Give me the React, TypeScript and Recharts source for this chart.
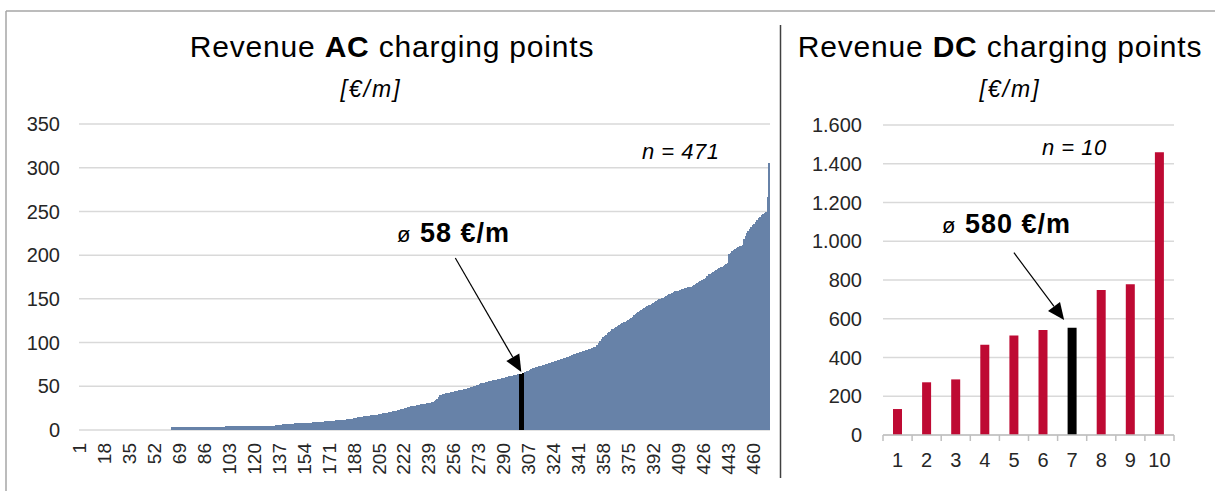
import { BarChart, Bar, XAxis, YAxis, CartesianGrid, Cell, ReferenceLine } from 'recharts';

const font = '"Liberation Sans", Arial, sans-serif';
const textColor = '#262626';
const acColor = '#6782a8';
const dcColor = '#be0a33';

// AC charging points, sorted ascending, one value per point [€/month]
const acRevenue = [
  0, 0, 0, 0, 0, 0, 0, 0, 0, 0,
  0, 0, 0, 0, 0, 0, 0, 0, 0, 0,
  0, 0, 0, 0, 0, 0, 0, 0, 0, 0,
  0, 0, 0, 0, 0, 0, 0, 0, 0, 0,
  0, 0, 0, 0, 0, 0, 0, 0, 0, 0,
  0, 0, 0, 0, 0, 0, 0, 0, 0, 0,
  0, 0, 0, 3.8, 3.8, 3.8, 3.8, 3.8, 3.8, 3.8,
  3.8, 3.8, 3.8, 3.8, 3.8, 3.8, 3.8, 3.8, 3.8, 3.8,
  3.8, 3.8, 3.8, 3.8, 3.8, 3.8, 3.8, 3.8, 3.8, 3.8,
  3.8, 3.8, 3.8, 3.8, 3.8, 3.8, 3.8, 3.8, 3.8, 3.8,
  4.2, 4.2, 4.2, 4.2, 4.2, 4.2, 4.2, 4.2, 4.2, 4.2,
  4.2, 4.2, 4.2, 4.2, 4.2, 4.2, 4.2, 4.2, 4.2, 4.2,
  4.2, 4.2, 4.2, 4.2, 4.2, 4.2, 4.2, 4.2, 4.2, 4.2,
  4.2, 4.2, 4.2, 4.5, 6, 6, 6, 6, 6.2, 6.3,
  6.5, 6.6, 6.8, 7, 7, 7.2, 7.4, 7.5, 7.6, 7.7,
  7.8, 7.9, 8, 8, 8.1, 8.2, 8.3, 8.4, 8.5, 8.6,
  8.7, 8.8, 9, 9.1, 9.3, 9.5, 9.6, 9.8, 10, 10.1,
  10.2, 10.4, 10.5, 10.6, 10.8, 11, 11.1, 11.3, 11.5, 11.6,
  11.8, 12, 12.2, 12.3, 12.5, 12.8, 13, 13.3, 13.6, 14,
  14.3, 14.6, 15, 15.3, 15.5, 15.8, 16, 16.2, 16.4, 16.6,
  16.8, 17, 17.3, 17.6, 18, 18.3, 18.7, 19, 19.3, 19.6,
  20, 20.3, 20.6, 21, 21.4, 21.8, 22.2, 22.6, 23, 23.5,
  24, 24.5, 25, 25.5, 26, 26.5, 27, 27.3, 27.6, 27.9,
  28.2, 28.5, 28.8, 29.2, 29.6, 30, 30.3, 30.6, 31, 31.4,
  31.8, 32.2, 33, 34.5, 36, 38, 39.5, 40.5, 41, 41.4,
  41.8, 42.2, 42.6, 43, 43.4, 43.8, 44.2, 44.6, 45, 45.3,
  45.6, 46, 46.4, 46.8, 47.2, 47.8, 48.4, 49, 49.6, 50.2,
  50.8, 51.4, 52, 52.6, 53.2, 53.8, 54.3, 54.8, 55.2, 55.6,
  56, 56.4, 56.8, 57.2, 57.6, 58, 58.4, 58.8, 59.2, 59.6,
  60, 60.4, 60.8, 61.2, 61.6, 62, 62.4, 62.8, 63.2, 63.6,
  64, 64.4, 64.8, 65.2, 66, 67, 68, 69, 70, 70.6,
  71.2, 71.7, 72.2, 72.7, 73.2, 73.7, 74.2, 74.7, 75.2, 75.7,
  76.2, 76.8, 77.4, 78, 78.6, 79.2, 79.8, 80.4, 81, 81.6,
  82.2, 82.8, 83.4, 84, 84.6, 85.2, 85.8, 86.4, 87, 87.6,
  88.2, 88.8, 89.4, 90, 90.6, 91.2, 91.8, 92.4, 93, 93.6,
  94.2, 94.8, 95.4, 97, 100, 102, 104, 106, 107.5, 109,
  110.5, 112, 113.5, 115, 116, 117, 118, 119, 120, 121,
  122, 123, 124, 125, 126, 127, 128, 129.5, 131, 132.5,
  134, 135.5, 136.5, 137.5, 138.5, 139.5, 140.5, 141.5, 142.5, 143.5,
  144.5, 145.5, 146.5, 147.5, 148.5, 149.5, 150, 150.5, 151, 152,
  153, 154, 155, 156, 157, 158, 158.5, 159, 159.5, 160,
  160.5, 161, 161.5, 162, 162.5, 163, 163.5, 164, 165, 166,
  167, 168, 169, 170, 171, 172, 173, 174, 176, 178,
  179, 180, 181, 182, 183, 184, 185, 186, 187, 188,
  189, 190, 191, 201, 203, 205, 206, 207, 208, 209,
  210, 211, 212, 218, 222, 225, 228, 230, 232, 234,
  236, 238, 240, 242, 244, 246, 247, 248, 249, 267,
  305,
];
const acHighlight = [301, 302, 303, 304];
const acTicks = [1, 18, 35, 52, 69, 86, 103, 120, 137, 154, 171, 188, 205, 222, 239, 256, 273, 290, 307, 324, 341, 358, 375, 392, 409, 426, 443, 460];
const acYTicks = [0, 50, 100, 150, 200, 250, 300, 350];

// DC charging points
const dcLabels = ['1', '2', '3', '4', '5', '6', '7', '8', '9', '10'];
const dcRevenue = [134, 272, 287, 466, 514, 542, 554, 748, 778, 1459];
const dcHighlight = '7';
const dcYTicks = [0, 200, 400, 600, 800, 1000, 1200, 1400, 1600];

const acData = acRevenue.map((value, i) => ({ idx: i + 1, value }));
const dcData = dcLabels.map((label, i) => ({ label, value: dcRevenue[i] }));

const fmtThousands = (v: number) =>
  v >= 1000 ? `${Math.floor(v / 1000)}.${String(v % 1000).padStart(3, '0')}` : String(v);

function AcTick({ x, y, payload }: any) {
  const ty = y + 13;
  return (
    <text
      x={x}
      y={ty}
      transform={`rotate(-90, ${x}, ${ty})`}
      textAnchor="end"
      dominantBaseline="central"
      fontSize={19}
      fontFamily={font}
      fill={textColor}
    >
      {payload.value}
    </text>
  );
}

function DcTick({ x, y, payload, index }: any) {
  const half = 14.55;
  return (
    <g>
      <line x1={x - half} x2={x - half} y1={y} y2={y + 6} stroke="#bfbfbf" strokeWidth={1.5} />
      {index === dcLabels.length - 1 && (
        <line x1={x + half} x2={x + half} y1={y} y2={y + 6} stroke="#bfbfbf" strokeWidth={1.5} />
      )}
      <text x={x} y={y + 32} textAnchor="middle" fontSize={20} fontFamily={font} fill={textColor}>
        {payload.value}
      </text>
    </g>
  );
}

// recharts rounds the bar width down to 1px here, so widen each bar and
// draw it without anti-aliasing to close the seams between neighbours
function SolidBar({ x, y, width, height, fill }: any) {
  if (!height || height <= 0) return null;
  return (
    <rect
      x={x - 0.5}
      y={y}
      width={width + 1}
      height={height}
      fill={fill}
      shapeRendering="crispEdges"
    />
  );
}

function Arrow({ x1, y1, x2, y2, tipDx = 0 }: any) {
  const tx = x2 + tipDx;
  const dx = tx - x1;
  const dy = y2 - y1;
  const len = Math.hypot(dx, dy) || 1;
  const ux = dx / len;
  const uy = dy / len;
  const hl = 17;
  const hw = 7.5;
  const bx = tx - ux * hl;
  const by = y2 - uy * hl;
  return (
    <g>
      <line x1={x1} y1={y1} x2={bx} y2={by} stroke="#000" strokeWidth={1.2} />
      <polygon
        points={`${tx},${y2} ${bx - uy * hw},${by + ux * hw} ${bx + uy * hw},${by - ux * hw}`}
        fill="#000"
      />
    </g>
  );
}

const yTickStyle = { fontSize: 20, fill: textColor, fontFamily: font };

function AcChart() {
  return (
    <BarChart
      width={780}
      height={491}
      data={acData}
      margin={{ top: 124, right: 10, bottom: 6, left: 0 }}
      barCategoryGap={0}
      barGap={0}
    >
      <CartesianGrid vertical={false} stroke="#d9d9d9" strokeWidth={1.5} />
      <XAxis
        dataKey="idx"
        ticks={acTicks}
        interval={0}
        tick={<AcTick />}
        tickLine={false}
        axisLine={false}
        tickSize={0}
        tickMargin={0}
        height={55}
      />
      <YAxis
        domain={[0, 350]}
        ticks={acYTicks}
        interval={0}
        tick={yTickStyle}
        tickLine={false}
        axisLine={false}
        tickSize={0}
        tickMargin={19}
        width={79}
      />
      <Bar dataKey="value" fill={acColor} shape={<SolidBar />} isAnimationActive={false}>
        {acData.map((d) => (
          <Cell key={d.idx} fill={acHighlight.includes(d.idx) ? '#000000' : acColor} />
        ))}
      </Bar>
      <ReferenceLine
        segment={[{ x: 257, y: 196.7 }, { x: 302, y: 66.3 }]}
        shape={(p: any) => <Arrow {...p} />}
      />
    </BarChart>
  );
}

function DcChart() {
  return (
    <BarChart width={435} height={491} data={dcData} margin={{ top: 125, right: 41, bottom: 6, left: 0 }}>
      <CartesianGrid vertical={false} stroke="#d9d9d9" strokeWidth={1.5} />
      <XAxis
        dataKey="label"
        interval={0}
        tick={<DcTick />}
        tickLine={false}
        axisLine={{ stroke: '#bfbfbf', strokeWidth: 1.5 }}
        tickSize={0}
        tickMargin={0}
        height={50}
      />
      <YAxis
        domain={[0, 1600]}
        ticks={dcYTicks}
        interval={0}
        tickFormatter={fmtThousands}
        tick={yTickStyle}
        tickLine={false}
        axisLine={false}
        tickSize={0}
        tickMargin={21}
        width={103}
      />
      <Bar dataKey="value" barSize={9} isAnimationActive={false}>
        {dcData.map((d) => (
          <Cell key={d.label} fill={d.label === dcHighlight ? '#000000' : dcColor} />
        ))}
      </Bar>
      <ReferenceLine
        segment={[{ x: '5', y: 941 }, { x: '7', y: 593 }]}
        shape={(p: any) => <Arrow {...p} tipDx={-8} />}
      />
    </BarChart>
  );
}

export default function App() {
  return (
    <div style={{ position: 'absolute', left: 0, top: 0, width: 1215, height: 491, background: '#fff', fontFamily: font }}>
      <div style={{ position: 'absolute', left: 0, top: 0 }}>
        <AcChart />
      </div>
      <div style={{ position: 'absolute', left: 780, top: 0 }}>
        <DcChart />
      </div>
      <svg width={1215} height={491} style={{ position: 'absolute', left: 0, top: 0, pointerEvents: 'none' }}>
        <line x1={6} y1={11} x2={1215} y2={11} stroke="#a6a6a6" strokeWidth={1.5} />
        <line x1={6} y1={11} x2={6} y2={491} stroke="#a6a6a6" strokeWidth={1.5} />
        <line x1={780.5} y1={25} x2={780.5} y2={478} stroke="#404040" strokeWidth={1.5} />

        <text x={392} y={57} textAnchor="middle" fontSize={30} letterSpacing={0.8} fontFamily={font} fill="#000">
          Revenue <tspan fontWeight="bold">AC</tspan> charging points
        </text>
        <text x={371} y={97} textAnchor="middle" fontSize={23} letterSpacing={2} fontStyle="italic" fontFamily={font} fill="#000">
          [€/m]
        </text>
        <text x={1000} y={57} textAnchor="middle" fontSize={30} letterSpacing={0.8} fontFamily={font} fill="#000">
          Revenue <tspan fontWeight="bold">DC</tspan> charging points
        </text>
        <text x={1010} y={97} textAnchor="middle" fontSize={23} letterSpacing={2} fontStyle="italic" fontFamily={font} fill="#000">
          [€/m]
        </text>

        <text x={642} y={159} fontSize={22} letterSpacing={0.5} fontStyle="italic" fontFamily={font} fill="#000">
          n = 471
        </text>
        <text x={1042} y={155} fontSize={22} letterSpacing={0.5} fontStyle="italic" fontFamily={font} fill="#000">
          n = 10
        </text>

        <text x={397} y={242} fontFamily={font} fill="#000">
          <tspan fontSize={22}>ø</tspan>
          <tspan x={420} fontSize={27} letterSpacing={1} fontWeight="bold">58 €/m</tspan>
        </text>
        <text x={942} y={233} fontFamily={font} fill="#000">
          <tspan fontSize={22}>ø</tspan>
          <tspan x={965} fontSize={27} letterSpacing={1} fontWeight="bold">580 €/m</tspan>
        </text>
      </svg>
    </div>
  );
}
